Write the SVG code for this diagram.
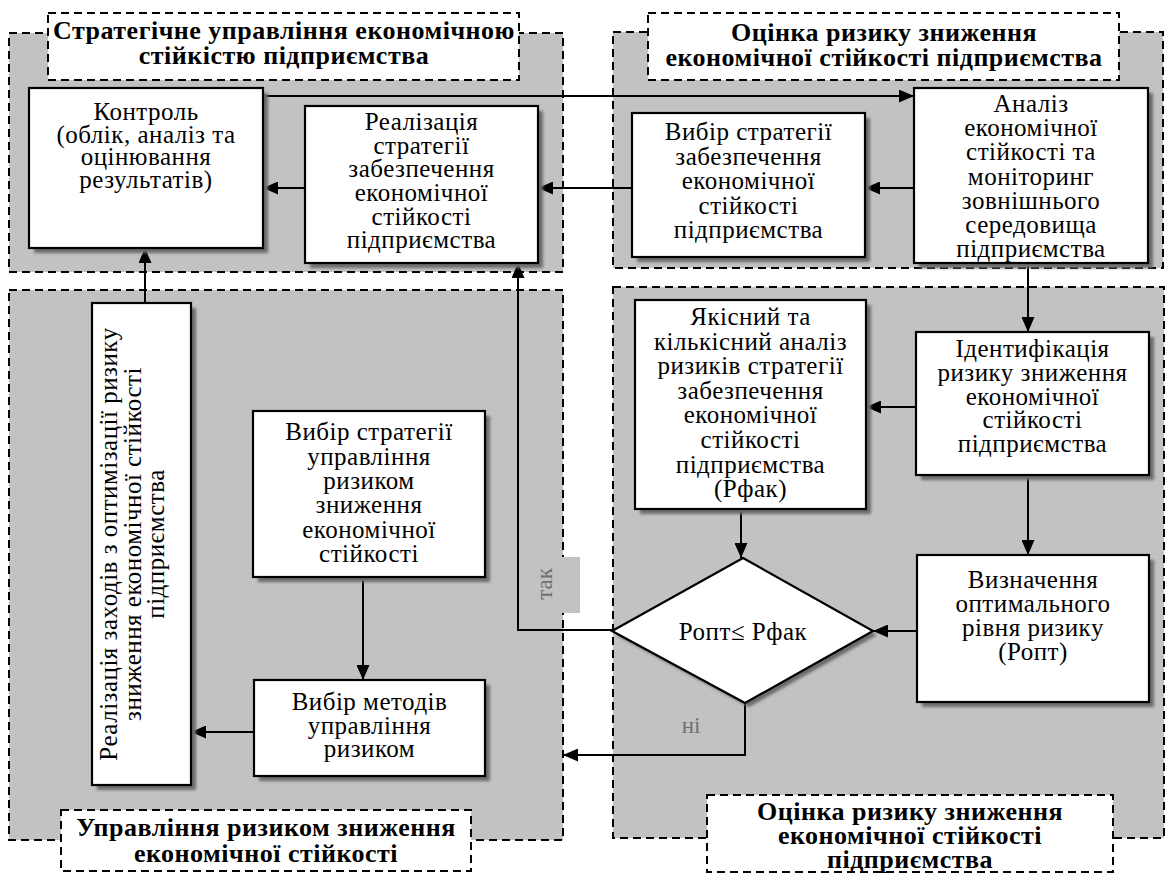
<svg xmlns="http://www.w3.org/2000/svg" width="1174" height="875" viewBox="0 0 1174 875">
<defs>
<style>
.panel{fill:#c2c2c2;stroke:#000;stroke-width:2;stroke-dasharray:8 5}
.ttl{fill:#fff;stroke:#000;stroke-width:2;stroke-dasharray:8 5}
.box{fill:#fff;stroke:#000;stroke-width:2.2}
.shd{fill:#6a6a6a;filter:url(#blur)}
.t{font-family:"Liberation Serif","Times New Roman",serif;font-size:25px;letter-spacing:0.5px;fill:#000;text-anchor:middle}
.tb{font-family:"Liberation Serif","Times New Roman",serif;font-size:26px;letter-spacing:0.5px;font-weight:bold;fill:#000;text-anchor:middle}
.lbl{font-family:"Liberation Serif","Times New Roman",serif;font-size:23px;fill:#707070;text-anchor:middle}
.con{fill:none;stroke:#000;stroke-width:2}
</style>
<filter id="blur" x="-10%" y="-10%" width="120%" height="120%"><feGaussianBlur stdDeviation="1.5"/></filter>
<marker id="ah" viewBox="0 0 15 13" refX="15" refY="6.5" markerWidth="15" markerHeight="13" markerUnits="userSpaceOnUse" orient="auto"><path d="M0,0 L15,6.5 L0,13 z" fill="#000"/></marker>
</defs>
<rect width="1174" height="875" fill="#fff"/>

<g id="panels">
<rect class="panel" x="9" y="33" width="554" height="239"/>
<rect class="panel" x="613" y="32" width="550" height="236"/>
<rect class="panel" x="9" y="290" width="554" height="550"/>
<rect class="panel" x="613" y="287" width="551" height="551"/>
<rect x="555" y="557" width="25" height="56" fill="#c2c2c2"/>
</g>

<g id="title-strategic">
<rect class="ttl" x="48" y="13" width="471" height="67"/>
<text class="tb" x="284" y="39">Стратегічне управління економічною</text>
<text class="tb" x="284" y="64">стійкістю підприємства</text>
</g>
<g id="title-assessment-top">
<rect class="ttl" x="648" y="13" width="471" height="67"/>
<text class="tb" x="884" y="41">Оцінка ризику зниження</text>
<text class="tb" x="884" y="66">економічної стійкості підприємства</text>
</g>
<g id="title-risk-management">
<rect class="ttl" x="61" y="810" width="410" height="61"/>
<text class="tb" x="266" y="836">Управління ризиком зниження</text>
<text class="tb" x="266" y="862">економічної стійкості</text>
</g>
<g id="title-assessment-bottom">
<rect class="ttl" x="707" y="795" width="406" height="77"/>
<text class="tb" x="910" y="820">Оцінка ризику зниження</text>
<text class="tb" x="910" y="844">економічної стійкості</text>
<text class="tb" x="910" y="868">підприємства</text>
</g>

<g id="connectors">
<path class="con" d="M263,96 H914" marker-end="url(#ah)"/>
<path class="con" d="M914,188 H865" marker-end="url(#ah)"/>
<path class="con" d="M632,188 H538" marker-end="url(#ah)"/>
<path class="con" d="M305,188 H263" marker-end="url(#ah)"/>
<path class="con" d="M1028,263 V332" marker-end="url(#ah)"/>
<path class="con" d="M916,407 H866" marker-end="url(#ah)"/>
<path class="con" d="M741,509 V558" marker-end="url(#ah)"/>
<path class="con" d="M1028,475 V555" marker-end="url(#ah)"/>
<path class="con" d="M917,631 H873" marker-end="url(#ah)"/>
<path class="con" d="M612,630 H518 V263" marker-end="url(#ah)"/>
<path class="con" d="M745,703 V755 H563" marker-end="url(#ah)"/>
<path class="con" d="M738,690 H745 V703"/>
<path class="con" d="M363,577 V680" marker-end="url(#ah)"/>
<path class="con" d="M254,732 H191" marker-end="url(#ah)"/>
<path class="con" d="M145,303 V248" marker-end="url(#ah)"/>
<text class="lbl" transform="translate(0,584) rotate(-90)" x="0" y="552">так</text>
<text class="lbl" x="691" y="733">ні</text>
</g>

<g id="control">
<rect class="shd" x="34" y="93" width="234" height="160"/>
<rect class="box" x="29" y="88" width="234" height="160"/>
<text class="t" x="146" y="120">Контроль</text>
<text class="t" x="146" y="142.5">(облік, аналіз та</text>
<text class="t" x="146" y="165">оцінювання</text>
<text class="t" x="146" y="187.5">результатів)</text>
</g>

<g id="implementation">
<rect class="shd" x="310" y="111" width="233" height="157"/>
<rect class="box" x="305" y="106" width="233" height="157"/>
<text class="t" x="421.5" y="130">Реалізація</text>
<text class="t" x="421.5" y="153.5">стратегії</text>
<text class="t" x="421.5" y="177">забезпечення</text>
<text class="t" x="421.5" y="201">економічної</text>
<text class="t" x="421.5" y="224.5">стійкості</text>
<text class="t" x="421.5" y="248">підприємства</text>
</g>

<g id="strategy-choice">
<rect class="shd" x="637" y="118" width="233" height="144"/>
<rect class="box" x="632" y="113" width="233" height="144"/>
<text class="t" x="748.5" y="140">Вибір стратегії</text>
<text class="t" x="748.5" y="164.5">забезпечення</text>
<text class="t" x="748.5" y="189">економічної</text>
<text class="t" x="748.5" y="213.5">стійкості</text>
<text class="t" x="748.5" y="238">підприємства</text>
</g>

<g id="analysis">
<rect class="shd" x="919" y="93" width="234" height="175"/>
<rect class="box" x="914" y="88" width="234" height="175"/>
<text class="t" x="1031" y="112">Аналіз</text>
<text class="t" x="1031" y="136">економічної</text>
<text class="t" x="1031" y="160">стійкості та</text>
<text class="t" x="1031" y="185">моніторинг</text>
<text class="t" x="1031" y="209">зовнішнього</text>
<text class="t" x="1031" y="233">середовища</text>
<text class="t" x="1031" y="257">підприємства</text>
</g>

<g id="quali-quant">
<rect class="shd" x="640" y="305" width="231" height="209"/>
<rect class="box" x="635" y="300" width="231" height="209"/>
<text class="t" x="750.5" y="325">Якісний та</text>
<text class="t" x="750.5" y="349.5">кількісний аналіз</text>
<text class="t" x="750.5" y="374">ризиків стратегії</text>
<text class="t" x="750.5" y="398.5">забезпечення</text>
<text class="t" x="750.5" y="423">економічної</text>
<text class="t" x="750.5" y="448">стійкості</text>
<text class="t" x="750.5" y="472.5">підприємства</text>
<text class="t" x="750.5" y="497">(Рфак)</text>
</g>

<g id="identification">
<rect class="shd" x="921" y="337" width="233" height="143"/>
<rect class="box" x="916" y="332" width="233" height="143"/>
<text class="t" x="1032.5" y="357">Ідентифікація</text>
<text class="t" x="1032.5" y="381">ризику зниження</text>
<text class="t" x="1032.5" y="404.5">економічної</text>
<text class="t" x="1032.5" y="428">стійкості</text>
<text class="t" x="1032.5" y="452">підприємства</text>
</g>

<g id="optimal-level">
<rect class="shd" x="922" y="560" width="232" height="147"/>
<rect class="box" x="917" y="555" width="232" height="147"/>
<text class="t" x="1033" y="588">Визначення</text>
<text class="t" x="1033" y="612">оптимального</text>
<text class="t" x="1033" y="636">рівня ризику</text>
<text class="t" x="1033" y="660">(Ропт)</text>
</g>

<g id="decision">
<polygon class="shd" points="747,562 877,635 749,707 616,635"/>
<polygon class="box" points="743,558 873,631 745,703 612,631"/>
<text class="t" x="743" y="640">Ропт≤ Рфак</text>
</g>

<g id="risk-strategy-choice">
<rect class="shd" x="258" y="416" width="232" height="166"/>
<rect class="box" x="253" y="411" width="232" height="166"/>
<text class="t" x="369" y="440">Вибір стратегії</text>
<text class="t" x="369" y="464.5">управління</text>
<text class="t" x="369" y="489">ризиком</text>
<text class="t" x="369" y="513">зниження</text>
<text class="t" x="369" y="537.5">економічної</text>
<text class="t" x="369" y="562">стійкості</text>
</g>

<g id="methods-choice">
<rect class="shd" x="259" y="685" width="231" height="96"/>
<rect class="box" x="254" y="680" width="231" height="96"/>
<text class="t" x="369.5" y="710">Вибір методів</text>
<text class="t" x="369.5" y="733.5">управління</text>
<text class="t" x="369.5" y="757">ризиком</text>
</g>

<g id="optimization-measures">
<rect class="shd" x="97" y="308" width="99" height="482"/>
<rect class="box" x="92" y="303" width="99" height="482"/>
<g transform="translate(0,544) rotate(-90)">
<text class="t" x="0" y="117">Реалізація заходів з оптимізації ризику</text>
<text class="t" x="0" y="140.5">зниження економічної стійкості</text>
<text class="t" x="0" y="164">підприємства</text>
</g>
</g>
</svg>
